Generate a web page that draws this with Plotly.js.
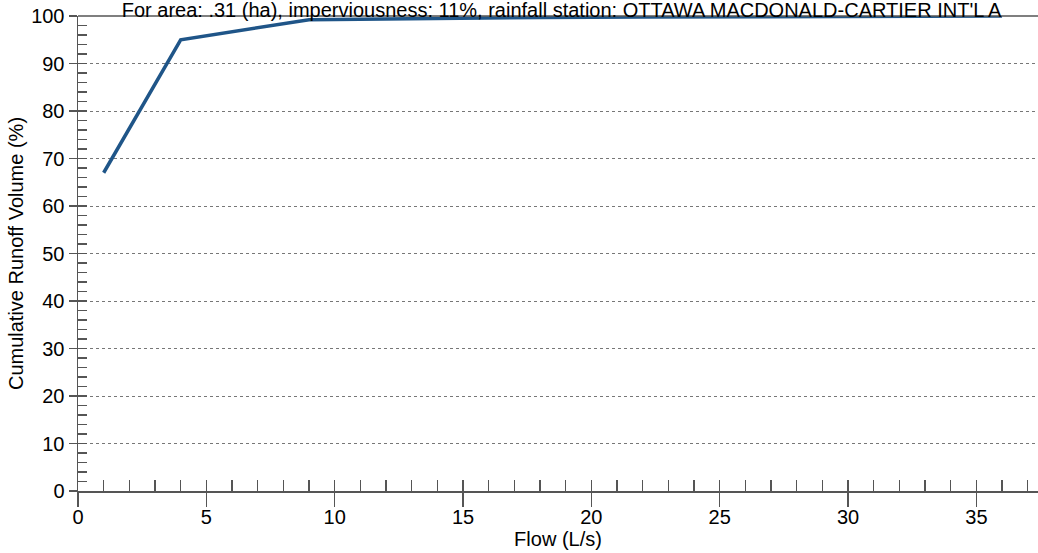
<!DOCTYPE html>
<html>
<head>
<meta charset="utf-8">
<script src="https://cdn.plot.ly/plotly-3.0.1.min.js"></script>
<style>html,body{margin:0;padding:0;background:#fff;}#chart{width:1038px;height:553px;}</style>
</head>
<body>
<div id="chart"></div>
<script>
const flow = [1, 4, 9, 12, 16, 18, 22, 27, 36];
const cumulativeVolume = [67, 95, 99.2, 99.4, 99.6, 99.7, 99.8, 99.9, 100];
const titleText = "For area: .31 (ha), imperviousness: 11%, rainfall station: OTTAWA MACDONALD-CARTIER INT'L A";
const xTitle = "Flow (L/s)";
const yTitle = "Cumulative Runoff Volume (%)";

const font = {family: "Arial, 'Liberation Sans', sans-serif", color: "#000"};
const axisColor = "#555";

const data = [{
  x: flow, y: cumulativeVolume, type: "scatter", mode: "lines",
  line: {color: "#1f5588", width: 3.5}, xaxis: "x", yaxis: "y", hoverinfo: "skip"
}];

const layout = {
  width: 1038, height: 553,
  margin: {l: 78, r: 0, t: 16, b: 62},
  paper_bgcolor: "#fff", plot_bgcolor: "#fff",
  showlegend: false,
  title: {text: titleText, font: {...font, size: 20}, x: 0.541, xanchor: "center",
          y: 1 - 3 / 553, yanchor: "top", yref: "container", pad: {t: 0, b: 0}},
  xaxis: {
    range: [0, 37.4], dtick: 5, tick0: 0, showgrid: false, zeroline: false,
    showline: true, linecolor: axisColor, linewidth: 1.5,
    ticks: "outside", ticklen: 14, tickcolor: axisColor, tickwidth: 1.5,
    tickfont: {...font, size: 20}, ticklabelstandoff: -7,
    title: {text: xTitle, font: {...font, size: 20}, standoff: 2}
  },
  xaxis2: {
    range: [0, 37.4], dtick: 1, tick0: 0, overlaying: "x", anchor: "y",
    showgrid: false, zeroline: false, showline: false, showticklabels: false,
    ticks: "inside", ticklen: 11, tickcolor: axisColor, tickwidth: 1.5
  },
  yaxis: {
    range: [0, 100], dtick: 10, tick0: 0, zeroline: false,
    showgrid: true, gridcolor: "#777", griddash: "dot", gridwidth: 1,
    showline: true, linecolor: axisColor, linewidth: 1.5,
    ticks: "outside", ticklen: 8, tickcolor: axisColor, tickwidth: 1.5,
    tickfont: {...font, size: 20},
    title: {text: yTitle, font: {...font, size: 20}, standoff: 2}
  },
  yaxis2: {
    range: [0, 100], dtick: 2, tick0: 0, overlaying: "y", anchor: "x",
    showgrid: false, zeroline: false, showline: false, showticklabels: false,
    ticks: "inside", ticklen: 9, tickcolor: axisColor, tickwidth: 1.5
  },
  shapes: [{type: "line", xref: "paper", yref: "paper", x0: 0, x1: 1, y0: 1, y1: 1,
            line: {color: axisColor, width: 1.5}}]
};

// invisible traces to activate overlay tick axes
data.push({x: [0], y: [0], xaxis: "x2", yaxis: "y", mode: "markers", marker: {opacity: 0}, hoverinfo: "skip"});
data.push({x: [0], y: [0], xaxis: "x", yaxis: "y2", mode: "markers", marker: {opacity: 0}, hoverinfo: "skip"});

Plotly.newPlot("chart", data, layout, {staticPlot: true, displayModeBar: false});
</script>
</body>
</html>
